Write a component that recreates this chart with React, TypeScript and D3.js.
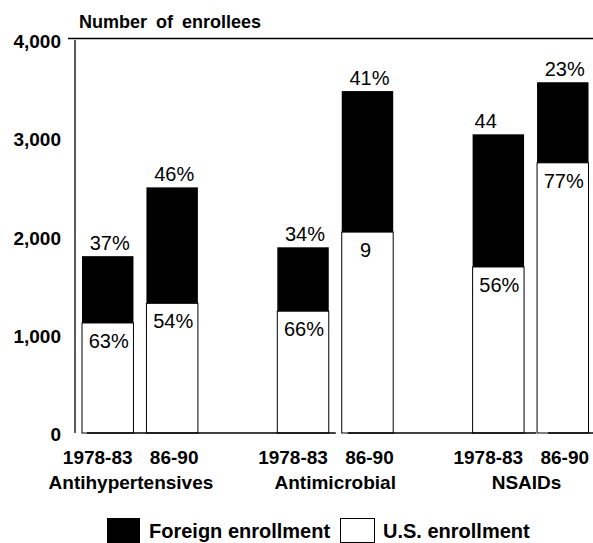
import React from "react";
import * as d3 from "d3";

const groups = ["Antihypertensives", "Antimicrobial", "NSAIDs"];
const periods = ["1978-83", "86-90"];
// order: group-major, period-minor
const usEnrollment = [1120, 1320, 1240, 2045, 1690, 2750];
const foreignEnrollment = [680, 1180, 650, 1435, 1350, 820];
const topLabels = ["37%", "46%", "34%", "41%", "44", "23%"];
const innerLabels = ["63%", "54%", "66%", "9", "56%", "77%"];
const yTicks = [0, 1000, 2000, 3000, 4000];

const W = 593;
const H = 543;
const FONT = "'Liberation Sans', Arial, Helvetica, sans-serif";

export default function App() {
  const y = d3.scaleLinear().domain([0, 4000]).range([433, 40]);
  const x0 = d3.scaleBand<string>().domain(groups).range([82, 588.5]).paddingInner(0.4066).paddingOuter(0);
  const x1 = d3.scaleBand<string>().domain(periods).range([0, x0.bandwidth()]).paddingInner(0.2016).paddingOuter(0);
  const fmt = d3.format(",");

  const bars = groups.flatMap((g, gi) =>
    periods.map((p, pi) => {
      const i = gi * periods.length + pi;
      const us = usEnrollment[i];
      const fo = foreignEnrollment[i];
      return {
        i,
        g,
        p,
        x: (x0(g) as number) + (x1(p) as number),
        w: x1.bandwidth(),
        us,
        total: us + fo,
        top: topLabels[i],
        inner: innerLabels[i],
      };
    })
  );

  const base = y(0);
  const b = (k: number) => bars[k].x;
  const segments: [number, number][] = [
    [b(0) + 5, b(3) - 6],
    [b(3) + 6, b(5) - 1],
    [b(5) + 11, W],
  ];

  return (
    <svg width={W} height={H} style={{ position: "absolute", left: 0, top: 0, background: "#fff" }} fontFamily={FONT}>
      <rect x={0} y={0} width={W} height={H} fill="#fff" />
      {/* axis title */}
      <text x={79} y={28} fontSize={18} fontWeight="bold" wordSpacing={4}>
        Number of enrollees
      </text>
      {/* top frame line */}
      <line x1={68} x2={W} y1={y(4000) - 1.5} y2={y(4000) - 1.5} stroke="#000" strokeWidth={1.3} />
      {/* left axis */}
      <line x1={75} x2={75} y1={y(4000)} y2={base} stroke="#000" strokeWidth={1.3} />
      {yTicks.map((t) => (
        <text key={t} x={61} y={y(t) + 8} textAnchor="end" fontSize={19} fontWeight="bold">
          {fmt(t)}
        </text>
      ))}
      {/* bars */}
      {bars.map((d) => (
        <g key={d.i}>
          <rect x={d.x} y={y(d.us)} width={d.w} height={base - y(d.us)} fill="#fff" stroke="#000" strokeWidth={1} />
          <rect x={d.x} y={y(d.total)} width={d.w} height={y(d.us) - y(d.total)} fill="#000" />
          <text
            x={d.top === "44" ? d.x + 2 : d.x + d.w / 2 + 2}
            y={y(d.total) - 6}
            textAnchor={d.top === "44" ? "start" : "middle"}
            fontSize={20}
          >
            {d.top}
          </text>
          <text x={d.x + d.w / 2 + (d.inner === "9" ? -2 : 1)} y={y(d.us) + 25} textAnchor="middle" fontSize={20}>
            {d.inner}
          </text>
          <text x={d.x + d.w / 2 - (d.p === periods[0] ? 10 : -2)} y={464} textAnchor="middle" fontSize={19} fontWeight="bold">
            {d.p}
          </text>
        </g>
      ))}
      {/* baseline */}
      {segments.map(([a, c], k) => (
        <line key={k} x1={a} x2={c} y1={base} y2={base} stroke="#000" strokeWidth={1.5} />
      ))}
      {/* group names */}
      {groups.map((g, gi) => (
        <text
          key={g}
          x={(x0(g) as number) + x0.bandwidth() / 2 - (gi === 1 ? 0 : gi === 0 ? 9 : 4)}
          y={489}
          textAnchor="middle"
          fontSize={19}
          fontWeight="bold"
        >
          {g}
        </text>
      ))}
      {/* legend */}
      <rect x={107} y={518} width={33} height={25} fill="#000" />
      <text x={149} y={538} fontSize={20} fontWeight="bold">
        Foreign enrollment
      </text>
      <rect x={340.5} y={518.5} width={34} height={24} fill="#fff" stroke="#000" strokeWidth={1} />
      <text x={383} y={538} fontSize={20} fontWeight="bold">
        U.S. enrollment
      </text>
    </svg>
  );
}
